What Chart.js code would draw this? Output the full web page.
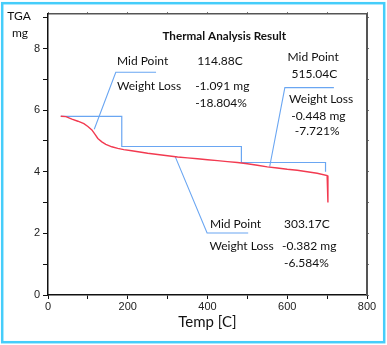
<!DOCTYPE html>
<html><head><meta charset="utf-8">
<script src="https://cdn.jsdelivr.net/npm/chart.js@4.4.0/dist/chart.umd.min.js"></script>
<style>html,body{margin:0;padding:0;background:#fff}#wrap{position:relative;width:387px;height:345px}</style>
</head><body><div id="wrap"><canvas id="c"></canvas></div>
<script>
// TGA curve (temperature in C, mass in mg)
const tempC = [32,45,60,75,90,100,110,118,125,135,145,160,175,190,210,230,250,275,300,325,350,375,400,425,450,475,500,525,550,575,600,625,650,675,700,702,702];
const tgaMg = [5.80,5.79,5.71,5.64,5.56,5.47,5.36,5.21,5.08,4.97,4.89,4.81,4.76,4.72,4.68,4.64,4.60,4.56,4.52,4.48,4.45,4.42,4.39,4.36,4.33,4.30,4.26,4.21,4.16,4.12,4.08,4.05,4.00,3.95,3.88,3.86,3.00];
// weight-loss step line
const stepTemp = [32,185,185,485,485,696,696];
const stepMg   = [5.80,5.80,4.82,4.82,4.30,4.30,4.00];
// leader lines to annotations
const lead1Temp = [116,170,271], lead1Mg = [5.38,7.23,7.23];
const lead2Temp = [319,399,502], lead2Mg = [4.49,2.01,2.01];
const lead3Temp = [556,594,717], lead3Mg = [4.17,6.73,6.73];
// tick labels
const xTickLabels = [0,200,400,600,800];
const yTickLabels = [0,2,4,6,8];
// annotation texts
const noteText = ['Thermal Analysis Result','Mid Point','114.88C','Weight Loss','-1.091 mg','-18.804%',
  'Mid Point','515.04C','Weight Loss','-0.448 mg','-7.721%',
  'Mid Point','303.17C','Weight Loss','-0.382 mg','-6.584%'];

// layout of annotations (data coordinates)
const notePos = [[442,8.41,'center',true],[173,7.60,'left'],[374,7.58,'left'],[173,6.79,'left'],[369,6.79,'left'],[369,6.23,'left'],
  [665,7.73,'center'],[668,7.18,'center'],[685,6.36,'center'],[678,5.81,'center'],[675,5.32,'center'],
  [406,2.31,'left'],[592,2.31,'left'],[405,1.59,'left'],[587,1.59,'left'],[592,1.05,'left']];

const pts = (xs, ys) => xs.map((x,i)=>({x:x, y:ys[i]}));
const RED = '#f23a50', BLUE = '#6aa6f2';

const deco = {
  id:'deco',
  afterDatasetsDraw(chart){
    const ctx = chart.ctx, xs = chart.scales.x, ys = chart.scales.y;
    ctx.save();
    ctx.fillStyle = '#111';
    ctx.textBaseline = 'middle';
    noteText.forEach((t,i)=>{
      const p = notePos[i];
      ctx.font = (p[3] ? 'bold 11.7px' : '12px') + ' Lato';
      ctx.textAlign = p[2];
      ctx.fillText(t, xs.getPixelForValue(p[0]), ys.getPixelForValue(p[1]));
    });
    ctx.font = '12px Lato';
    ctx.textAlign = 'center';
    ctx.fillText('TGA', 19, 16);
    ctx.fillText('mg', 20, 33);
    ctx.restore();
  },
  afterDraw(chart){
    const ctx = chart.ctx;
    ctx.save();
    ctx.strokeStyle = '#45cdfa';
    ctx.lineWidth = 2.5;
    ctx.strokeRect(2.2, 3.2, 382, 339);
    ctx.restore();
  }
};

new Chart(document.getElementById('c'), {
  type:'line',
  data:{datasets:[
    {data:pts(tempC,tgaMg), borderColor:RED, borderWidth:1.4, pointRadius:0, tension:0},
    {data:pts(stepTemp,stepMg), borderColor:BLUE, borderWidth:1.2, pointRadius:0, tension:0},
    {data:pts(lead1Temp,lead1Mg), borderColor:BLUE, borderWidth:1.1, pointRadius:0, tension:0},
    {data:pts(lead2Temp,lead2Mg), borderColor:BLUE, borderWidth:1.1, pointRadius:0, tension:0},
    {data:pts(lead3Temp,lead3Mg), borderColor:BLUE, borderWidth:1.1, pointRadius:0, tension:0}
  ]},
  options:{
    responsive:true, maintainAspectRatio:false, animation:false,
    layout:{padding:0},
    plugins:{legend:{display:false}, tooltip:{enabled:false}},
    scales:{
      x:{type:'linear', position:'bottom', min:0, max:800,
        ticks:{stepSize:100, autoSkip:false, maxRotation:0, padding:1, color:'#222',
          font:{family:'Liberation Sans', size:11},
          callback:v=> xTickLabels.includes(v) ? String(v) : ''},
        grid:{display:true, drawOnChartArea:false, drawTicks:true, tickLength:4, color:'#111', lineWidth:1},
        border:{display:true, color:'#111', width:1.5},
        title:{display:true, text:'Temp [C]', color:'#111', font:{family:'Lato', size:15}, padding:{top:0,bottom:14}},
        afterFit:s=>{s.height=50;}
      },
      x2:{type:'linear', position:'top', min:0, max:800,
        ticks:{stepSize:100, display:false},
        grid:{display:true, drawOnChartArea:false, drawTicks:true, tickLength:2, color:'#777'},
        border:{display:true, color:'#555', width:1.5},
        afterFit:s=>{s.height=14;}
      },
      y:{type:'linear', position:'left', min:0, max:9.12,
        ticks:{stepSize:1, includeBounds:false, autoSkip:false, padding:3, color:'#222',
          font:{family:'Liberation Sans', size:11},
          callback:v=> yTickLabels.includes(v) ? String(v) : ''},
        grid:{display:true, drawOnChartArea:false, drawTicks:true, tickLength:5, color:'#111', lineWidth:1},
        border:{display:true, color:'#111', width:1.5},
        afterFit:s=>{s.width=48;}
      },
      y2:{type:'linear', position:'right', min:0, max:9.12,
        ticks:{stepSize:1, includeBounds:false, display:false},
        grid:{display:true, drawOnChartArea:false, drawTicks:true, tickLength:2, color:'#777'},
        border:{display:true, color:'#555', width:2},
        afterFit:s=>{s.width=20;}
      }
    }
  },
  plugins:[deco]
});
</script></body></html>
